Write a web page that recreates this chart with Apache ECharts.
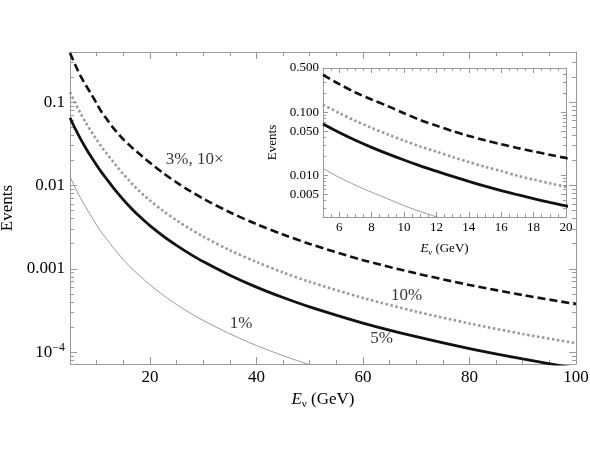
<!DOCTYPE html>
<html>
<head>
<meta charset="utf-8">
<script src="https://cdn.jsdelivr.net/npm/echarts@6/dist/echarts.min.js"></script>
<style>
html, body { margin: 0; background: #fff; }
#chart { width: 590px; height: 456px; }
</style>
</head>
<body>
<div id="chart"></div>
<script>
// E_nu (GeV) sample points and events
var energy = [5, 6, 7, 8, 9, 10, 11, 12, 13, 14, 15, 16, 17, 18, 19, 20, 22.5, 25, 27.5, 30, 35, 40, 45, 50, 60, 70, 80, 90, 100];
var events3pct10x = [0.390, 0.279, 0.205, 0.1585, 0.1248, 0.0963, 0.0750, 0.0613, 0.0501, 0.0422, 0.0359, 0.0311, 0.0272, 0.0240, 0.0212, 0.0188,
    0.01408, 0.01089, 0.00861, 0.00696, 0.00477, 0.00344, 0.00258, 0.00199, 0.00127, 0.000882, 0.000640, 0.000484, 0.000377];
var events10pct = [0.132, 0.0968, 0.0731, 0.0564, 0.0445, 0.0355, 0.0287, 0.0237, 0.0196, 0.0163, 0.0137, 0.0117, 0.0099, 0.00858, 0.0075, 0.0066,
    0.00494, 0.00382, 0.00302, 0.00244, 0.00167, 0.00121, 0.000904, 0.000698, 0.000447, 0.000306, 0.000221, 0.000165, 0.000128];
var events5pct = [0.0650, 0.0477, 0.0360, 0.0278, 0.0219, 0.0175, 0.01416, 0.01168, 0.00964, 0.00804, 0.00677, 0.00576, 0.00495, 0.00429, 0.00375, 0.00330,
    0.00247, 0.00191, 0.00151, 0.00122, 0.000837, 0.000603, 0.000452, 0.000349, 0.000223, 0.000153, 0.000110, 0.0000827, 0.0000639];
var events1pct = [0.0129, 0.0093, 0.00702, 0.00542, 0.00427, 0.00333, 0.00269, 0.00222, 0.00183, 0.00153, 0.00129, 0.00110, 0.000955, 0.000832, 0.000731, 0.000644,
    0.000482, 0.000373, 0.000296, 0.000240, 0.000166, 0.000120, 0.0000908, 0.0000705, 0.0000450, 0.0000310, 0.0000223, 0.0000168, 0.0000130];

// curve labels: [E, events, text]
var curveLabels = [
    [28.4, 0.0203, '3%, 10×'],
    [68.2, 0.000473, '10%'],
    [63.5, 0.000144, '5%'],
    [37.1, 0.000218, '1%']
];

// ticks
var mainXMajor = [20, 40, 60, 80, 100];
var mainXMinor = [5, 10, 15, 20, 25, 30, 35, 40, 45, 50, 55, 60, 65, 70, 75, 80, 85, 90, 95, 100];
var mainYMajor = [0.0001, 0.001, 0.01, 0.1];
var mainYMinor = [0.00008, 0.00009, 0.0002, 0.0003, 0.0004, 0.0005, 0.0006, 0.0007, 0.0008, 0.0009,
    0.002, 0.003, 0.004, 0.005, 0.006, 0.007, 0.008, 0.009,
    0.02, 0.03, 0.04, 0.05, 0.06, 0.07, 0.08, 0.09, 0.2, 0.3, 0.4];
var insetXMajor = [6, 8, 10, 12, 14, 16, 18, 20];
var insetXMinor = [5, 5.5, 6, 6.5, 7, 7.5, 8, 8.5, 9, 9.5, 10, 10.5, 11, 11.5, 12, 12.5, 13, 13.5, 14, 14.5,
    15, 15.5, 16, 16.5, 17, 17.5, 18, 18.5, 19, 19.5, 20];
var insetYMajor = [0.005, 0.01, 0.05, 0.1, 0.5];
var insetYMinor = [0.003, 0.004, 0.006, 0.007, 0.008, 0.009, 0.02, 0.03, 0.04, 0.06, 0.07, 0.08, 0.09, 0.2, 0.3, 0.4];

var serif = 'Liberation Serif';
var frameColor = '#999';

function pairs(ys) {
    return energy.map(function (e, i) { return [e, ys[i]]; });
}

function axis(kind, grid, pos, min, max, ticks, len, opts) {
    var a = {
        type: kind,
        gridIndex: grid,
        position: pos,
        min: min,
        max: max,
        splitLine: { show: false },
        axisLine: { show: !!opts.line, onZero: false, lineStyle: { color: frameColor, width: 1 } },
        axisTick: { show: true, inside: true, length: len, customValues: ticks, lineStyle: { color: frameColor, width: 1 } },
        axisLabel: { show: false }
    };
    if (kind === 'log') a.logBase = 10;
    if (opts.labels) {
        a.axisLabel = {
            show: true,
            customValues: opts.labels,
            formatter: opts.formatter,
            margin: opts.margin,
            color: '#000',
            fontFamily: serif,
            fontSize: opts.fontSize,
            rich: { sup: { fontFamily: serif, fontSize: opts.fontSize * 0.7, padding: [0, 0, 9, 0] } }
        };
    }
    if (opts.name) {
        var s = opts.nameSize;
        a.name = opts.name;
        a.nameLocation = 'middle';
        a.nameGap = opts.nameGap;
        a.nameTextStyle = {
            color: '#000',
            fontFamily: serif,
            fontSize: s,
            rich: {
                i: { fontFamily: serif, fontStyle: 'italic', fontSize: s, lineHeight: s * 1.2 },
                sub: { fontFamily: serif, fontSize: s * 0.65, lineHeight: s * 0.45, verticalAlign: 'bottom' }
            }
        };
    }
    return a;
}

function mainYFormat(v) {
    if (v < 0.0005) return '10{sup|−4}';
    return String(+v.toPrecision(1));
}
function insetYFormat(v) { return v.toFixed(3); }
function xFormat(v) { return String(Math.round(v)); }

var xTitle = '{i|E}{sub|ν} (GeV)';

var xAxes = [
    // main grid
    axis('value', 0, 'bottom', 5, 100, mainXMajor, 7, { line: true, labels: mainXMajor, formatter: xFormat, margin: 5, fontSize: 17, name: xTitle, nameGap: 15, nameSize: 17 }),
    axis('value', 0, 'bottom', 5, 100, mainXMinor, 4, {}),
    axis('value', 0, 'top', 5, 100, mainXMajor, 7, { line: true }),
    axis('value', 0, 'top', 5, 100, mainXMinor, 4, {}),
    // inset grid
    axis('value', 1, 'bottom', 5, 20, insetXMajor, 5, { line: true, labels: insetXMajor, formatter: xFormat, margin: 4, fontSize: 13, name: xTitle, nameGap: 24, nameSize: 13 }),
    axis('value', 1, 'bottom', 5, 20, insetXMinor, 3, {}),
    axis('value', 1, 'top', 5, 20, insetXMajor, 5, { line: true }),
    axis('value', 1, 'top', 5, 20, insetXMinor, 3, {})
];

var yAxes = [
    axis('log', 0, 'left', 0.000072, 0.4, mainYMajor, 7, { line: true, labels: mainYMajor, formatter: mainYFormat, margin: 5, fontSize: 17, name: 'Events', nameGap: 53, nameSize: 17 }),
    axis('log', 0, 'left', 0.000072, 0.4, mainYMinor, 4, {}),
    axis('log', 0, 'right', 0.000072, 0.4, mainYMajor, 7, { line: true }),
    axis('log', 0, 'right', 0.000072, 0.4, mainYMinor, 4, {}),
    axis('log', 1, 'left', 0.0022, 0.5, insetYMajor, 5, { line: true, labels: insetYMajor, formatter: insetYFormat, margin: 4, fontSize: 13, name: 'Events', nameGap: 44, nameSize: 13 }),
    axis('log', 1, 'left', 0.0022, 0.5, insetYMinor, 3, {}),
    axis('log', 1, 'right', 0.0022, 0.5, insetYMajor, 5, { line: true }),
    axis('log', 1, 'right', 0.0022, 0.5, insetYMinor, 3, {})
];

var styles = [
    { data: events3pct10x, color: '#111', width: 2.6, type: [8, 4] },
    { data: events10pct, color: '#999', width: 2.6, type: [2.5, 2.5] },
    { data: events5pct, color: '#111', width: 2.8, type: 'solid' },
    { data: events1pct, color: '#9a9a9a', width: 1, type: 'solid' }
];

var series = [];
[0, 1].forEach(function (g) {
    styles.forEach(function (s) {
        series.push({
            type: 'line',
            xAxisIndex: g * 4,
            yAxisIndex: g * 4,
            data: pairs(s.data),
            showSymbol: false,
            smooth: 0.3,
            clip: true,
            lineStyle: { color: s.color, width: s.width, type: s.type }
        });
    });
});
series.push({
    type: 'scatter',
    xAxisIndex: 0,
    yAxisIndex: 0,
    symbolSize: 0,
    data: curveLabels,
    label: {
        show: true,
        position: 'inside',
        formatter: function (p) { return p.data[2]; },
        color: '#000',
        fontFamily: serif,
        fontSize: 17
    }
});

var myChart = echarts.init(document.getElementById('chart'), null, { renderer: 'canvas' });
myChart.setOption({
    animation: false,
    backgroundColor: '#fff',
    grid: [
        { left: 70, top: 52, right: 14, bottom: 92, containLabel: false, outerBoundsMode: 'none' },
        { left: 323, top: 68, right: 24, bottom: 239, containLabel: false, outerBoundsMode: 'none' }
    ],
    xAxis: xAxes,
    yAxis: yAxes,
    series: series
});
</script>
</body>
</html>
